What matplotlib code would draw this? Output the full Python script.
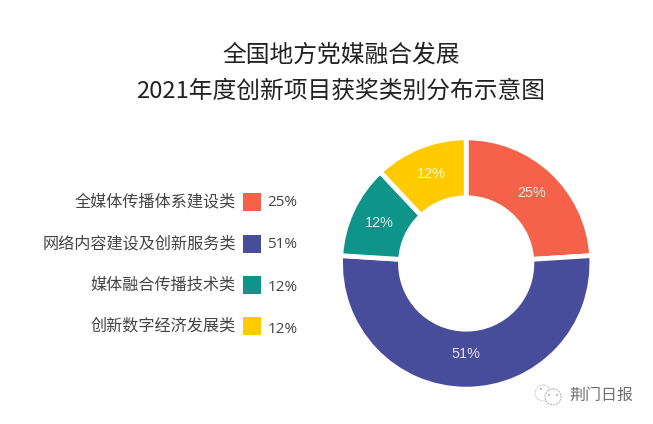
import math
import matplotlib
matplotlib.use('Agg')
import matplotlib.pyplot as plt
from matplotlib.patches import Rectangle, Circle

plt.rcParams['font.family'] = ['Noto Sans CJK SC', 'DejaVu Sans']

title_lines = ['全国地方党媒融合发展', '2021年度创新项目获奖类别分布示意图']
categories = ['全媒体传播体系建设类', '网络内容建设及创新服务类', '媒体融合传播技术类', '创新数字经济发展类']
# slice sizes as drawn in the picture; the printed labels differ slightly
values = [24, 52, 12, 12]
colors = ['#F56249', '#484D9B', '#0E9488', '#FFCB00']
labels = ['25%', '51%', '12%', '12%']
watermark = '荆门日报'

W, H = 653, 424
fig = plt.figure(figsize=(W/100, H/100), dpi=100)
bg = fig.add_axes([0, 0, 1, 1])
bg.set_xlim(0, W); bg.set_ylim(H, 0); bg.axis('off')

bg.text(341, 55.5, title_lines[0], ha='center', va='center', fontsize=17.1, color='#222222')
bg.text(341, 91.5, title_lines[1], ha='center', va='center', fontsize=17.1, color='#222222')

ys = [201.5, 243.5, 284.5, 325.5]
lab_ys = [202, 245, 287.5, 329.5]
for y, ly, c, cat, lab in zip(ys, lab_ys, colors, categories, labels):
    bg.add_patch(Rectangle((243, y-9), 18, 18, color=c, lw=0))
    bg.text(236, y+0.8, cat, ha='right', va='center', fontsize=11.6, color='#444444')
    bg.text(267.5, ly, lab, ha='left', va='center', fontsize=11, color='#444444', family='Open Sans')

cx, cy, R = 466.2, 263.5, 124
ax = fig.add_axes([(cx-R)/W, 1-(cy+R)/H, 2*R/W, 2*R/H])
ax.pie(values, colors=colors, startangle=90, counterclock=False, radius=1.013,
       wedgeprops=dict(width=0.483, edgecolor='white', linewidth=3.4))
ax.set_xlim(-1, 1); ax.set_ylim(-1, 1)
cum = 0
for v, lab in zip(values, labels):
    a = math.radians(90 - (cum + v/2) * 3.6)
    r = 0.73 if v > 50 else 0.775
    ax.text(r*math.cos(a), r*math.sin(a), lab, ha='center', va='center',
            fontsize=10.4, color='white', alpha=0.85, family='Liberation Sans')
    cum += v

bg.add_patch(Circle((543, 393), 8, fc='none', ec='#c4c4c4', lw=0.7, ls=(0, (2, 1))))
bg.add_patch(Circle((553, 397), 8, fc='white', ec='#aaaaaa', lw=0.7, ls=(0, (2, 1))))
for ex, ey in [(541, 389), (549, 395), (557, 395)]:
    bg.add_patch(Circle((ex, ey), 0.9, fc='#999999', ec='none'))
bg.text(601, 395, watermark, ha='center', va='center', fontsize=11.5, color='#707070')
fig.savefig('out.png', dpi=100)
